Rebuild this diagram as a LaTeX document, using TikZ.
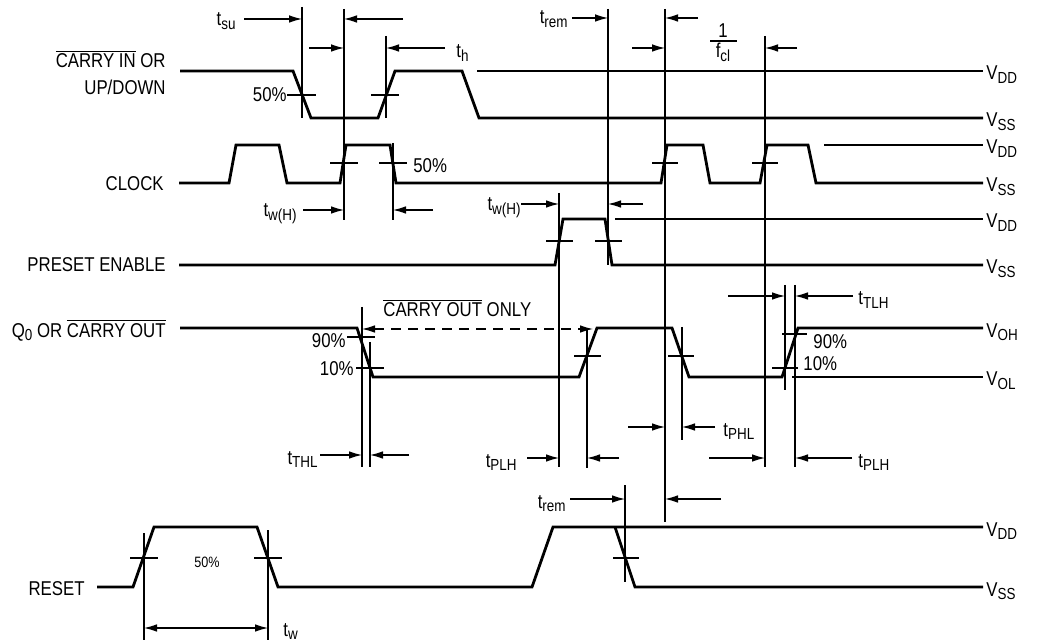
\documentclass[tikz,border=0pt]{standalone}
\usepackage{fontspec}
\setmainfont{Liberation Sans}[FakeStretch=0.84]
\usetikzlibrary{arrows.meta}
\newcommand\sbs[1]{\raisebox{-1.8pt}{\fontsize{8}{9}\selectfont #1}}
\newcommand\ovl[1]{\ensuremath{\overline{\hbox{#1}}}}
\begin{document}
\begin{tikzpicture}[x=0.5pt,y=-0.5pt,
  wave/.style={line width=1.4pt, line join=miter},
  thin/.style={line width=0.55pt},
  dim/.style={thin,-{Latex[length=6.5pt,width=3.8pt]}},
  lbl/.style={inner sep=0pt, font=\fontsize{10}{12}\selectfont},
  small/.style={inner sep=0pt, font=\fontsize{7.5}{9}\selectfont}]
\useasboundingbox (0,0) rectangle (1052,640);

% ---------------- waveforms ----------------
% CARRY IN / UP-DOWN
\draw[wave] (180,71) -- (293,71) -- (311,118) -- (378,118) -- (395,71) -- (462,71) -- (479,118) -- (983,118);
\draw[wave] (477,71) -- (983,71);
% CLOCK
\draw[wave] (179,183) -- (229,183) -- (236,145) -- (279,145) -- (287,183) -- (340,183) -- (346,145) -- (390,145) -- (396,183)
  -- (661,183) -- (667,145) -- (703,145) -- (710,183) -- (760,183) -- (767,145) -- (808,145) -- (816,183) -- (983,183);
\draw[wave] (824,145) -- (983,145);
% PRESET ENABLE
\draw[wave] (179,265) -- (555,265) -- (563,219) -- (605,219) -- (612,265) -- (983,265);
\draw[wave] (615,219) -- (983,219);
% Q0 / CARRY OUT
\draw[wave] (180,328) -- (357,328) -- (373,377) -- (579,377) -- (597,328) -- (672,328) -- (689,377) -- (782,377) -- (798,328) -- (983,328);
\draw[wave] (792,377) -- (983,377);
% RESET
\draw[wave] (97,587) -- (133,587) -- (154,527) -- (257,527) -- (278,587) -- (532,587) -- (553,527) -- (983,527);
\draw[wave] (615,527) -- (635,587) -- (983,587);

% ---------------- level ticks ----------------
\draw[thin] (287,95) -- (316,95)  (371,95) -- (399,95);
\draw[thin] (330,163) -- (358,163) (379,163) -- (407,163) (652,163) -- (678,163) (752,163) -- (778,163);
\draw[thin] (546,241) -- (573,241) (595,241) -- (622,241);
\draw[thin] (347,337) -- (375,337) (356,368) -- (384,368);
\draw[thin] (574,356) -- (601,356) (668,356) -- (694,356);
\draw[thin] (782,334) -- (807,334) (772,368) -- (798,368);
\draw[thin] (130,558) -- (158,558) (254,558) -- (282,558) (613,558) -- (639,558);

% ---------------- reference verticals ----------------
\draw[thin] (302,7) -- (302,118);
\draw[thin] (344,9) -- (344,220);
\draw[thin] (386,36) -- (386,118);
\draw[thin] (393,143) -- (393,220);
\draw[thin] (559,193) -- (559,467);
\draw[thin] (608,9) -- (608,265);
\draw[thin] (665,9) -- (665,522);
\draw[thin] (765,36) -- (765,467);
\draw[thin] (362,307) -- (362,467);
\draw[thin] (370,342) -- (370,467);
\draw[thin] (587,330) -- (587,468);
\draw[thin] (682,327) -- (682,440);
\draw[thin] (785,285) -- (785,390);
\draw[thin] (795,285) -- (795,467);
\draw[thin] (144,533) -- (144,640);
\draw[thin] (268,530) -- (268,640);
\draw[thin] (625,485) -- (625,582);

% ---------------- dimension arrows ----------------
\draw[dim] (244,19) -- (302,19);
\draw[dim] (403,19) -- (344,19);
\draw[dim] (309,48) -- (344,48);
\draw[dim] (445,48) -- (386,48);
\draw[dim] (572,18) -- (608,18);
\draw[dim] (698,18) -- (665,18);
\draw[dim] (632,48) -- (665,48);
\draw[dim] (797,48) -- (765,48);
\draw[dim] (303,210) -- (344,210);
\draw[dim] (433,210) -- (393,210);
\draw[dim] (521,204) -- (559,204);
\draw[dim] (643,204) -- (608,204);
\draw[dim] (728,296) -- (785,296);
\draw[dim] (853,296) -- (795,296);
\draw[dim] (628,427) -- (665,427);
\draw[dim] (715,427) -- (682,427);
\draw[dim] (320,455) -- (362,455);
\draw[dim] (409,455) -- (370,455);
\draw[dim] (527,458) -- (559,458);
\draw[dim] (619,458) -- (587,458);
\draw[dim] (709,458) -- (765,458);
\draw[dim] (852,458) -- (795,458);
\draw[dim] (570,499) -- (625,499);
\draw[dim] (721,499) -- (665,499);
\draw[thin,{Latex[length=6.5pt,width=3.8pt]}-{Latex[length=6.5pt,width=3.8pt]}] (144,628) -- (268,628);
\draw[thin,dash pattern=on 5pt off 3.5pt,{Latex[length=6.5pt,width=3.8pt]}-{Latex[length=6.5pt,width=3.8pt]}] (362,329) -- (593,329);

% fraction 1/f_cl
\node[lbl,anchor=base] (one) at (723,38) {1};
\draw[thin] (710,41) -- (737,41);
\node[lbl,anchor=base] (fcl) at (723,58) {f\sbs{cl}};

% ---------------- signal names ----------------
\node[lbl,anchor=base east] (cin) at (166,68) {\ovl{CARRY IN} OR};
\node[lbl,anchor=base east] (updn) at (166,95) {UP/DOWN};
\node[lbl,anchor=base east] (clk) at (164,191) {CLOCK};
\node[lbl,anchor=base east] (pe) at (166,272) {PRESET ENABLE};
\node[lbl,anchor=base east] (q0) at (166,337) {Q\sbs{0} OR \ovl{CARRY OUT}};
\node[lbl,anchor=base east] (rst) at (85,595) {RESET};

% ---------------- supply labels ----------------
\node[lbl,anchor=base west] (v1) at (986,80) {V\sbs{DD}};
\node[lbl,anchor=base west] (v2) at (986,127) {V\sbs{SS}};
\node[lbl,anchor=base west] (v3) at (986,154) {V\sbs{DD}};
\node[lbl,anchor=base west] (v4) at (986,192) {V\sbs{SS}};
\node[lbl,anchor=base west] (v5) at (986,228) {V\sbs{DD}};
\node[lbl,anchor=base west] (v6) at (986,274) {V\sbs{SS}};
\node[lbl,anchor=base west] (v7) at (986,337) {V\sbs{OH}};
\node[lbl,anchor=base west] (v8) at (986,386) {V\sbs{OL}};
\node[lbl,anchor=base west] (v9) at (986,536) {V\sbs{DD}};
\node[lbl,anchor=base west] (v10) at (986,596) {V\sbs{SS}};

% ---------------- percent labels ----------------
\node[lbl,anchor=east] (p1) at (287,95) {50\%};
\node[lbl,anchor=west] (p2) at (413,166) {50\%};
\node[lbl,anchor=east] (p3) at (346,341) {90\%};
\node[lbl,anchor=east] (p4) at (354,369) {10\%};
\node[lbl,anchor=west] (p5) at (813,342) {90\%};
\node[lbl,anchor=west] (p6) at (803,364) {10\%};
\node[small] (p7) at (207,562) {50\%};
\node[lbl,anchor=base west] (cout) at (383,317) {\ovl{CARRY OUT} ONLY};

% ---------------- timing labels ----------------
\node[lbl,anchor=base east] (tsu) at (236,26) {t\sbs{su}};
\node[lbl,anchor=base west] (th) at (456,58) {t\sbs{h}};
\node[lbl,anchor=base east] (trem1) at (568,24) {t\sbs{rem}};
\node[lbl,anchor=base east] (tw1) at (297,217) {t\sbs{w(H)}};
\node[lbl,anchor=base east] (tw2) at (521,211) {t\sbs{w(H)}};
\node[lbl,anchor=base west] (ttlh) at (858,305) {t\sbs{TLH}};
\node[lbl,anchor=base west] (tphl) at (723,436) {t\sbs{PHL}};
\node[lbl,anchor=base east] (tthl) at (318,464) {t\sbs{THL}};
\node[lbl,anchor=base east] (tplh1) at (517,467) {t\sbs{PLH}};
\node[lbl,anchor=base west] (tplh2) at (858,467) {t\sbs{PLH}};
\node[lbl,anchor=base east] (trem2) at (566,508) {t\sbs{rem}};
\node[lbl,anchor=base west] (tw) at (283,636) {t\sbs{w}};
\end{tikzpicture}
\end{document}
